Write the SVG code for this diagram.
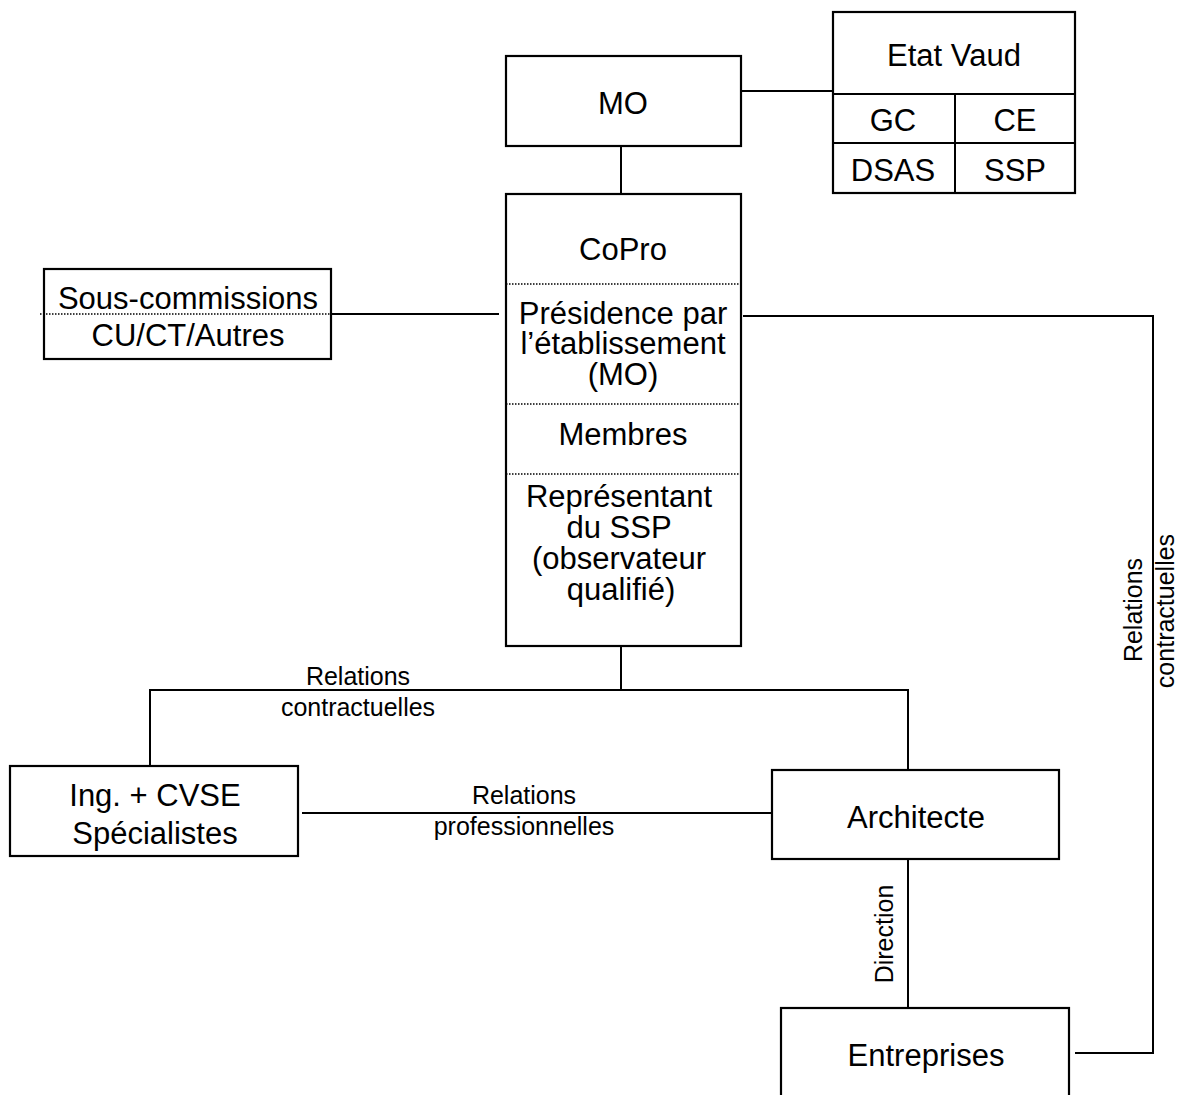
<svg xmlns="http://www.w3.org/2000/svg" width="1186" height="1095" viewBox="0 0 1186 1095">
<style>
  .box { fill: #fff; stroke: #000; stroke-width: 2.2; }
  .ln { fill: none; stroke: #000; stroke-width: 2; }
  .dot { fill: none; stroke: #000; stroke-width: 1.5; stroke-dasharray: 1.5 1.5; }
  .big { font-family: "Liberation Sans", Arial, sans-serif; font-size: 31px; text-anchor: middle; fill: #000; }
  .small { font-family: "Liberation Sans", Arial, sans-serif; font-size: 25px; text-anchor: middle; fill: #000; }
</style>
<rect width="1186" height="1095" fill="#fff"/>
<g id="connectors">
  <line class="ln" x1="741" y1="91" x2="833" y2="91"/>
  <line class="ln" x1="621" y1="146" x2="621" y2="194"/>
  <line class="ln" x1="331" y1="314" x2="499" y2="314"/>
  <polyline class="ln" points="743,316 1153,316 1153,1053 1075,1053"/>
  <line class="ln" x1="621" y1="646" x2="621" y2="690"/>
  <polyline class="ln" points="150,766 150,690 908,690 908,770"/>
  <line class="ln" x1="302" y1="813" x2="772" y2="813"/>
  <line class="ln" x1="908" y1="859" x2="908" y2="1008"/>
  <text class="small" x="358" y="685">Relations</text>
  <text class="small" x="358" y="716">contractuelles</text>
  <text class="small" x="524" y="804">Relations</text>
  <text class="small" x="524" y="835">professionnelles</text>
  <text class="small" transform="translate(1142,610) rotate(-90)">Relations</text>
  <text class="small" transform="translate(1174,611) rotate(-90)">contractuelles</text>
  <text class="small" transform="translate(893,934) rotate(-90)">Direction</text>
</g>
<g id="mo">
  <rect class="box" x="506" y="56" width="235" height="90"/>
  <text class="big" x="623" y="114">MO</text>
</g>
<g id="etat-vaud">
  <rect class="box" x="833" y="12" width="242" height="181"/>
  <line class="ln" x1="833" y1="94" x2="1075" y2="94"/>
  <line class="ln" x1="833" y1="143" x2="1075" y2="143"/>
  <line class="ln" x1="955" y1="94" x2="955" y2="193"/>
  <text class="big" x="954" y="66">Etat Vaud</text>
  <text class="big" x="893" y="131">GC</text>
  <text class="big" x="1015" y="131">CE</text>
  <text class="big" x="893" y="181">DSAS</text>
  <text class="big" x="1015" y="181">SSP</text>
</g>
<g id="copro">
  <rect class="box" x="506" y="194" width="235" height="452"/>
  <line class="dot" x1="506" y1="284" x2="741" y2="284"/>
  <line class="dot" x1="506" y1="404" x2="741" y2="404"/>
  <line class="dot" x1="506" y1="474" x2="741" y2="474"/>
  <text class="big" x="623" y="260">CoPro</text>
  <text class="big" x="623" y="324">Présidence par</text>
  <text class="big" x="623" y="354">l’établissement</text>
  <text class="big" x="623" y="385">(MO)</text>
  <text class="big" x="623" y="445">Membres</text>
  <text class="big" x="619" y="507">Représentant</text>
  <text class="big" x="619" y="538">du SSP</text>
  <text class="big" x="619" y="569">(observateur</text>
  <text class="big" x="621" y="600">qualifié)</text>
</g>
<g id="sous-commissions">
  <rect class="box" x="44" y="269" width="287" height="90"/>
  <line class="dot" x1="40" y1="314" x2="331" y2="314"/>
  <text class="big" x="188" y="309">Sous-commissions</text>
  <text class="big" x="188" y="346">CU/CT/Autres</text>
</g>
<g id="ingenieurs">
  <rect class="box" x="10" y="766" width="288" height="90"/>
  <text class="big" x="155" y="806">Ing. + CVSE</text>
  <text class="big" x="155" y="844">Spécialistes</text>
</g>
<g id="architecte">
  <rect class="box" x="772" y="770" width="287" height="89"/>
  <text class="big" x="916" y="828">Architecte</text>
</g>
<g id="entreprises">
  <rect class="box" x="781" y="1008" width="288" height="100"/>
  <text class="big" x="926" y="1066">Entreprises</text>
</g>
</svg>
